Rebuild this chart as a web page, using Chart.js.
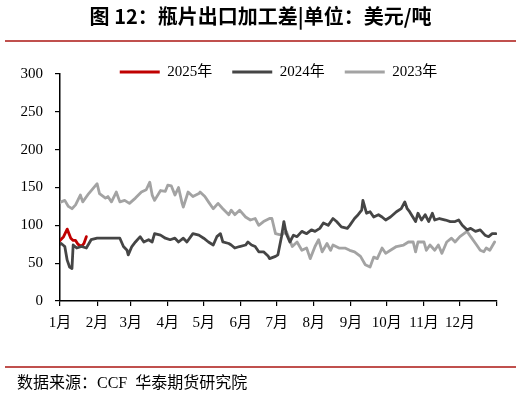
<!DOCTYPE html>
<html>
<head>
<meta charset="utf-8">
<script src="https://cdn.jsdelivr.net/npm/chart.js@4/dist/chart.umd.min.js"></script>
<style>
  html, body { margin: 0; padding: 0; background: #fff; }
  #wrap { position: relative; width: 521px; height: 396px; overflow: hidden; }
  #chart { position: absolute; left: 0; top: 0; }
  #title { position: absolute; left: 0; top: 4px; width: 521px; text-align: center;
           font-family: "Noto Sans CJK SC", sans-serif; font-weight: bold; font-size: 20px; color: #000; line-height: 24px; }
  .rule { position: absolute; left: 5px; width: 511px; height: 2px; background: #c0504d; }
  #source { position: absolute; left: 17px; top: 373px; font-family: "Liberation Serif", "Noto Sans CJK SC", serif;
            font-size: 16px; color: #000; line-height: 20px; white-space: pre; }
</style>
</head>
<body>
<div id="wrap">
  <canvas id="chart" width="521" height="396"></canvas>
  <div id="title">图 12：瓶片出口加工差|单位：美元/吨</div>
  <div class="rule" style="top:40px"></div>
  <div class="rule" style="top:366px"></div>
  <div id="source">数据来源：CCF  华泰期货研究院</div>
</div>
<script>
// ---- data ----
const seriesNames = ['2025年', '2024年', '2023年'];
const monthStartDays = [0, 31, 59, 90, 120, 151, 181, 212, 243, 273, 304, 334, 365];
const monthLabels = ['1月', '2月', '3月', '4月', '5月', '6月', '7月', '8月', '9月', '10月', '11月', '12月', ''];
const yTicks = [0, 50, 100, 150, 200, 250, 300];

const days2025 = [0, 3, 6, 9, 11, 13, 15, 18, 20, 22];
const values2025 = [80, 85, 95, 83, 80, 80, 75, 72, 76, 85];

const days2024 = [0, 1, 4, 6, 8, 10, 11, 14, 18, 22, 26, 31, 38, 46, 50, 53, 56, 57, 60, 63, 67, 70, 74, 77, 79, 84, 88, 92, 96, 99, 103, 106, 111, 116, 120, 124, 128, 131, 134, 136, 141, 143, 146, 150, 155, 157, 160, 163, 166, 170, 174, 175, 180, 182, 185, 187, 189, 192, 195, 198, 202, 206, 210, 213, 217, 220, 224, 228, 231, 235, 240, 242, 246, 249, 252, 253, 256, 259, 262, 266, 269, 272, 276, 281, 285, 288, 290, 292, 297, 299, 302, 305, 308, 311, 313, 317, 322, 326, 330, 333, 336, 340, 343, 347, 351, 355, 358, 361, 364];
const values2024 = [75, 76, 72, 54, 45, 43, 74, 70, 72, 70, 81, 83, 83, 83, 83, 72, 67, 61, 72, 78, 85, 78, 81, 78, 89, 87, 83, 81, 83, 78, 83, 78, 89, 87, 83, 78, 74, 85, 89, 78, 76, 74, 70, 72, 74, 78, 74, 72, 65, 65, 59, 56, 59, 61, 85, 105, 89, 78, 87, 85, 92, 89, 94, 92, 96, 103, 100, 109, 105, 98, 96, 100, 109, 114, 120, 133, 116, 118, 111, 114, 111, 107, 111, 118, 122, 131, 122, 118, 105, 116, 107, 114, 105, 116, 107, 109, 107, 105, 105, 107, 100, 94, 96, 92, 94, 87, 85, 89, 89];

const days2023 = [0, 1, 4, 7, 10, 13, 17, 19, 24, 31, 33, 38, 40, 43, 47, 50, 54, 58, 63, 68, 72, 75, 77, 79, 84, 88, 90, 93, 96, 99, 102, 103, 107, 111, 116, 117, 121, 124, 128, 132, 136, 141, 143, 146, 150, 155, 159, 163, 166, 170, 175, 177, 180, 185, 189, 194, 198, 202, 206, 209, 213, 216, 219, 223, 226, 228, 233, 238, 242, 246, 251, 255, 259, 262, 265, 269, 272, 276, 281, 287, 291, 295, 297, 299, 304, 306, 309, 313, 316, 319, 323, 327, 330, 334, 340, 343, 348, 351, 354, 356, 359, 363];
const values2023 = [130, 131, 133, 125, 122, 127, 140, 131, 142, 155, 142, 136, 138, 131, 144, 131, 133, 129, 136, 144, 147, 157, 140, 133, 146, 145, 153, 152, 140, 150, 129, 124, 144, 138, 142, 144, 138, 131, 122, 129, 122, 114, 120, 114, 120, 111, 107, 109, 100, 105, 109, 109, 89, 87, 92, 72, 78, 67, 70, 56, 72, 81, 65, 76, 67, 74, 70, 70, 67, 65, 59, 48, 45, 58, 56, 70, 63, 67, 72, 74, 78, 78, 65, 78, 78, 67, 74, 67, 74, 63, 78, 83, 78, 85, 92, 85, 74, 67, 65, 70, 67, 78];

// ---- helpers ----
const toPoints = (days, vals) => days.map((d, i) => ({ x: d, y: vals[i] }));
const tickFont = { family: "'Liberation Serif', 'Times New Roman', 'Noto Sans CJK SC', serif", size: 15 };

const legendPlacer = {
  id: 'legendPlacer',
  afterLayout(chart) {
    const lg = chart.legend;
    if (!lg) return;
    const ca = chart.chartArea;
    lg.left = ca.left; lg.right = ca.right; lg.width = ca.right - ca.left;
    const pad = lg.options.labels.padding;
    const targetCenter = 72;
    const h = lg.height;
    lg.top = targetCenter - 7.5 - pad;
    lg.bottom = lg.top + h;
  }
};

const lineStyle = { borderWidth: 2.8, pointRadius: 0, pointHoverRadius: 0, tension: 0, borderJoinStyle: 'round', borderCapStyle: 'round' };

new Chart(document.getElementById('chart'), {
  type: 'line',
  data: {
    datasets: [
      Object.assign({ label: seriesNames[0], data: toPoints(days2025, values2025), borderColor: '#c00000', backgroundColor: '#c00000', order: 2 }, lineStyle),
      Object.assign({ label: seriesNames[1], data: toPoints(days2024, values2024), borderColor: '#454545', backgroundColor: '#454545', order: 0 }, lineStyle),
      Object.assign({ label: seriesNames[2], data: toPoints(days2023, values2023), borderColor: '#a3a3a3', backgroundColor: '#a3a3a3', order: 1 }, lineStyle)
    ]
  },
  options: {
    responsive: false,
    animation: false,
    devicePixelRatio: 1,
    layout: { padding: { top: 29, right: 24, bottom: 0, left: 0 } },
    plugins: {
      tooltip: { enabled: false },
      legend: {
        display: true,
        position: 'top',
        labels: {
          usePointStyle: true,
          pointStyle: 'line',
          pointStyleWidth: 40,
          padding: 20,
          color: '#000',
          font: tickFont,
          sort: (a, b) => a.datasetIndex - b.datasetIndex
        }
      }
    },
    scales: {
      x: {
        type: 'linear',
        min: 0,
        max: 365,
        afterFit: (s) => { s.height = 95; },
        afterBuildTicks: (s) => { s.ticks = monthStartDays.map(v => ({ value: v })); },
        ticks: {
          autoSkip: false,
          maxRotation: 0,
          padding: 8,
          color: '#000',
          font: tickFont,
          callback: (v) => { const i = monthStartDays.indexOf(v); return i >= 0 ? monthLabels[i] : ''; }
        },
        grid: { drawOnChartArea: false, drawTicks: true, tickLength: 5, color: '#000', lineWidth: 1.2 },
        border: { display: true, color: '#000', width: 1.5 }
      },
      y: {
        type: 'linear',
        min: 0,
        max: 300,
        afterFit: (s) => { s.width = 60; },
        afterBuildTicks: (s) => { s.ticks = yTicks.map(v => ({ value: v })); },
        ticks: { padding: 12, color: '#000', font: tickFont },
        grid: { drawOnChartArea: false, drawTicks: true, tickLength: 5, color: '#000', lineWidth: 1.2 },
        border: { display: true, color: '#000', width: 1.5 }
      }
    }
  },
  plugins: [legendPlacer]
});
</script>
</body>
</html>
